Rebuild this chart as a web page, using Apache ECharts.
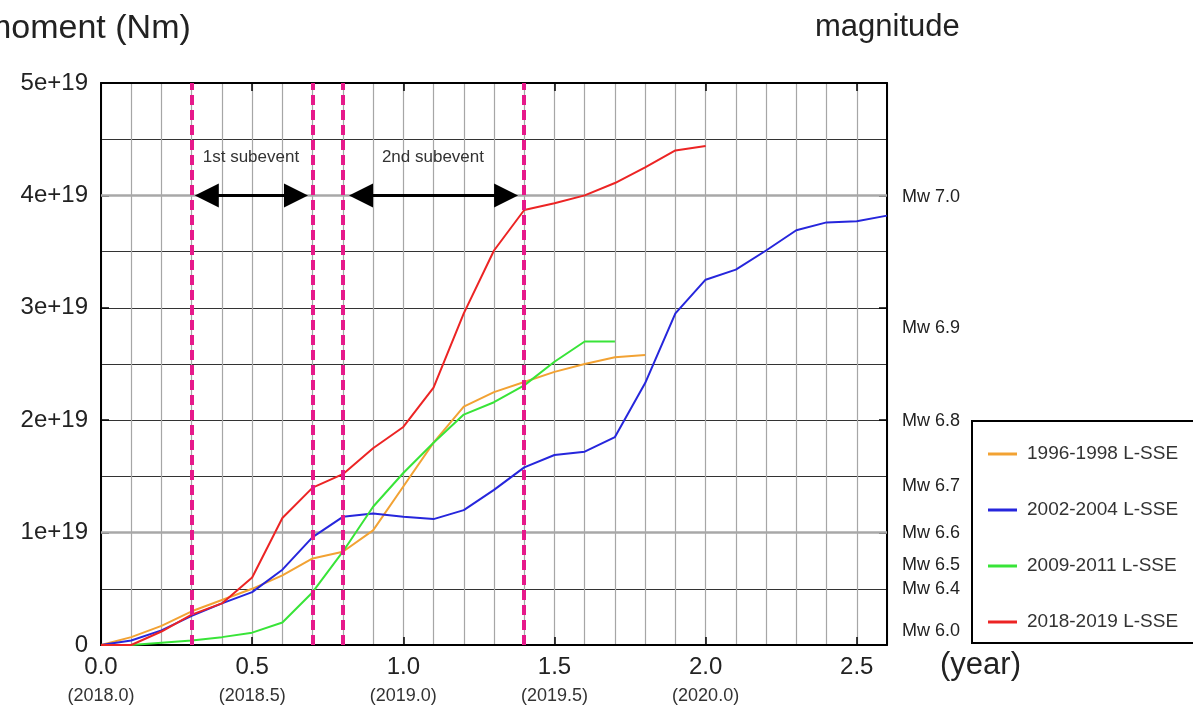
<!DOCTYPE html>
<html>
<head>
<meta charset="utf-8">
<script src="https://cdn.jsdelivr.net/npm/echarts@6/dist/echarts.min.js"></script>
<style>
html,body{margin:0;padding:0;background:#fff;}
#chart{width:1193px;height:706px;}
</style>
</head>
<body>
<div id="chart"></div>
<script>
// ---- data (moment in units of 1e19 Nm) ----
var years = [0,0.1,0.2,0.3,0.4,0.5,0.6,0.7,0.8,0.9,1.0,1.1,1.2,1.3,1.4,1.5,1.6,1.7,1.8,1.9,2.0,2.1,2.2,2.3,2.4,2.5,2.6];
var sse1996 = [0,0.07,0.17,0.30,0.40,0.50,0.62,0.77,0.83,1.02,1.41,1.80,2.12,2.25,2.34,2.43,2.50,2.56,2.58];
var sse2002 = [0,0.04,0.13,0.26,0.37,0.47,0.67,0.96,1.14,1.17,1.14,1.12,1.20,1.38,1.58,1.69,1.72,1.85,2.33,2.95,3.25,3.34,3.51,3.69,3.76,3.77,3.82];
var sse2009 = [0,0,0.02,0.04,0.07,0.11,0.20,0.47,0.83,1.23,1.53,1.80,2.05,2.16,2.31,2.52,2.70,2.70];
var sse2018 = [0,0,0.12,0.27,0.37,0.60,1.13,1.40,1.52,1.75,1.94,2.29,2.95,3.51,3.87,3.93,4.00,4.11,4.25,4.40,4.44];
var seriesNames = ['1996-1998 L-SSE','2002-2004 L-SSE','2009-2011 L-SSE','2018-2019 L-SSE'];

// ---- tick labels ----
var xTickValues = [0,0.5,1.0,1.5,2.0,2.5];
var xTickLabels = ['0.0','0.5','1.0','1.5','2.0','2.5'];
var yearLabels = ['(2018.0)','(2018.5)','(2019.0)','(2019.5)','(2020.0)',''];
var yTickLabels = ['0','1e+19','2e+19','3e+19','4e+19','5e+19'];
var mwValues = [6.0,6.4,6.5,6.6,6.7,6.8,6.9,7.0];
var mwLabels = ['Mw 6.0','Mw 6.4','Mw 6.5','Mw 6.6','Mw 6.7','Mw 6.8','Mw 6.9','Mw 7.0'];
// moment (1e19 Nm) for each magnitude: M0 = 10^(1.5 Mw + 9.1)
var mwMoments = mwValues.map(function(m){ return Math.pow(10, 1.5*m + 9.1 - 19); });

// ---- annotations ----
var subeventBounds = [0.3,0.7,0.8,1.4];
var highlightLevels = [1,4];
var arrow1 = [0.350,0.645];
var arrow2 = [0.860,1.340];
var arrowLevel = 4;
var subeventTexts = [['1st subevent',0.496,4.34],['2nd subevent',1.098,4.34]];

function pairs(vals){ return vals.map(function(v,i){ return [years[i], v]; }); }

var FONT = 'Liberation Sans, Arial, Helvetica, sans-serif';
var colors = ['#f2a233','#2626dc','#38e438','#ec2424'];

var chart = echarts.init(document.getElementById('chart'), null, {renderer:'canvas'});
var option = {
  animation:false,
  backgroundColor:'#ffffff',
  textStyle:{fontFamily:FONT},
  grid:{left:101, top:83, width:786, height:562, containLabel:false, show:false},
  legend:{
    orient:'vertical', left:983, top:439, itemWidth:29, itemHeight:3, itemGap:36,
    icon:'rect', data:seriesNames,
    textStyle:{fontFamily:FONT, fontSize:19, color:'#333', lineHeight:20, padding:[0,0,0,5]}
  },
  xAxis:[
    {type:'value', min:0, max:2.6, interval:0.1, position:'bottom',
     axisLine:{show:true, onZero:false, lineStyle:{color:'#000', width:2}},
     axisTick:{show:false}, axisLabel:{show:false},
     splitLine:{show:true, lineStyle:{color:'#a6a6a6', width:1.2}}},
    {type:'value', min:0, max:2.6, interval:0.5, position:'bottom',
     axisLine:{show:false}, splitLine:{show:false},
     axisTick:{show:true, inside:true, length:8, lineStyle:{color:'#000', width:1.5}},
     axisLabel:{show:true, margin:9, formatter:function(v){
        var r = Math.round(v*10)/10; var i = xTickValues.indexOf(r);
        if(i<0) return '';
        return '{a|'+xTickLabels[i]+'}\n{b|'+yearLabels[i]+'}';
      },
      rich:{a:{fontFamily:FONT, fontSize:24, lineHeight:26, color:'#222'},
            b:{fontFamily:FONT, fontSize:18, lineHeight:32, color:'#333'}}}},
    {type:'value', min:0, max:2.6, interval:0.5, position:'top',
     axisLine:{show:true, onZero:false, lineStyle:{color:'#000', width:2}}, splitLine:{show:false},
     axisTick:{show:true, inside:true, length:8, lineStyle:{color:'#000', width:1.5}},
     axisLabel:{show:false}}
  ],
  yAxis:[
    {type:'value', min:0, max:5, interval:0.5, position:'left',
     axisLine:{show:true, onZero:false, lineStyle:{color:'#000', width:2}},
     axisTick:{show:false}, axisLabel:{show:false},
     splitLine:{show:true, lineStyle:{color:'#333', width:1}}},
    {type:'value', min:0, max:5, interval:1, position:'left',
     axisLine:{show:false}, splitLine:{show:false},
     axisTick:{show:true, inside:true, length:8, lineStyle:{color:'#000', width:1.5}},
     axisLabel:{show:true, margin:13, fontFamily:FONT, fontSize:24, color:'#222',
       formatter:function(v){ return yTickLabels[Math.round(v)]; }}},
    {type:'value', min:0, max:5, interval:1, position:'right',
     axisLine:{show:true, onZero:false, lineStyle:{color:'#000', width:2}}, splitLine:{show:false},
     axisTick:{show:true, inside:true, length:8, lineStyle:{color:'#000', width:1.5}},
     axisLabel:{show:false}},
    {type:'value', min:0, max:5, position:'right',
     axisLine:{show:false}, splitLine:{show:false}, axisTick:{show:false},
     axisLabel:{show:true, margin:15, fontFamily:FONT, fontSize:18, color:'#222',
       customValues:mwMoments,
       formatter:function(v){
         var best=0, d=1e9;
         for(var i=0;i<mwMoments.length;i++){ var dd=Math.abs(mwMoments[i]-v); if(dd<d){d=dd;best=i;} }
         return mwLabels[best];
       }}}
  ],
  series:[
    {name:seriesNames[0], type:'line', data:pairs(sse1996), showSymbol:false, symbol:'none',
     lineStyle:{color:colors[0], width:2}, itemStyle:{color:colors[0]}, z:3,
     markLine:{silent:true, symbol:'none', z:1, label:{show:false},
       lineStyle:{color:'#a8a8a8', width:2.5, type:'solid'},
       data:highlightLevels.map(function(v){ return {yAxis:v}; })}},
    {name:seriesNames[1], type:'line', data:pairs(sse2002), showSymbol:false, symbol:'none',
     lineStyle:{color:colors[1], width:2}, itemStyle:{color:colors[1]}, z:3},
    {name:seriesNames[2], type:'line', data:pairs(sse2009), showSymbol:false, symbol:'none',
     lineStyle:{color:colors[2], width:2}, itemStyle:{color:colors[2]}, z:3},
    {name:seriesNames[3], type:'line', data:pairs(sse2018), showSymbol:false, symbol:'none',
     lineStyle:{color:colors[3], width:2}, itemStyle:{color:colors[3]}, z:4,
     markLine:{silent:true, symbol:'none', z:6, label:{show:false},
       lineStyle:{color:'#e6198a', width:4, type:[10,5]},
       data:subeventBounds.map(function(v){ return {xAxis:v}; })},
     markPoint:{silent:true, symbol:'rect', symbolSize:1, itemStyle:{color:'rgba(0,0,0,0)'},
       label:{show:true, position:'inside', fontFamily:FONT, fontSize:17, color:'#333',
         formatter:function(p){ return p.name; }},
       data:subeventTexts.map(function(t){ return {name:t[0], coord:[t[1],t[2]]}; })}},
    {name:'arrows', type:'line', data:[], xAxisIndex:0, yAxisIndex:0, legendHoverLink:false,
     markLine:{silent:true, z:7, symbol:['triangle','triangle'], symbolSize:24,
       label:{show:false},
       lineStyle:{color:'#000', width:3, type:'solid'}, itemStyle:{color:'#000'},
       data:[
         [{coord:[arrow1[0],arrowLevel]},{coord:[arrow1[1],arrowLevel]}],
         [{coord:[arrow2[0],arrowLevel]},{coord:[arrow2[1],arrowLevel]}]
       ]}}
  ],
  graphic:[
    {type:'text', left:-17, top:12, style:{text:'moment (Nm)', font:'34px '+FONT, fill:'#222'}},
    {type:'text', left:815, top:12, style:{text:'magnitude', font:'31px '+FONT, fill:'#222'}},
    {type:'text', left:940, top:650, style:{text:'(year)', font:'31px '+FONT, fill:'#222'}},
    {type:'rect', shape:{x:972, y:421, width:250, height:222}, style:{fill:'none', stroke:'#000', lineWidth:2}, z:0}
  ]
};
chart.setOption(option);
</script>
</body>
</html>
